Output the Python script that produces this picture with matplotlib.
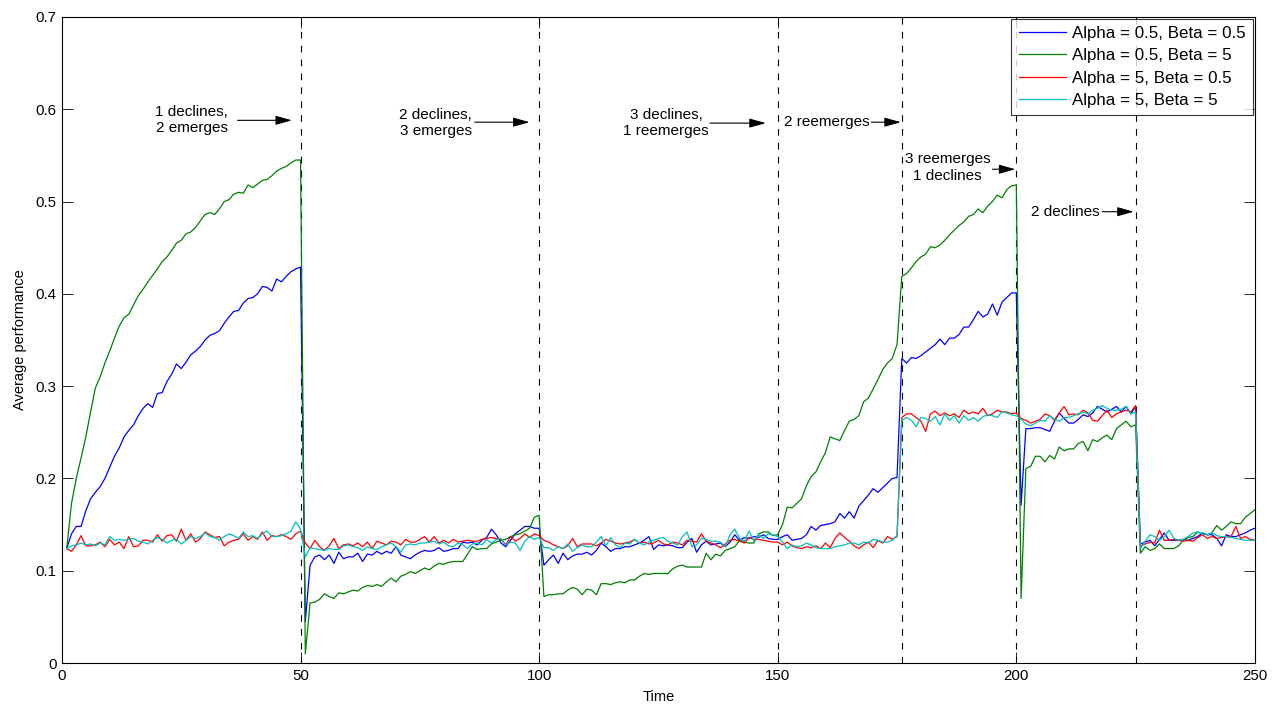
import numpy as np
import matplotlib
matplotlib.use("Agg")
import matplotlib.pyplot as plt

plt.rcParams['font.family'] = ['Liberation Sans', 'DejaVu Sans']

time = np.arange(1, 251)

# Alpha = 0.5, Beta = 0.5
blue = [
    0.124, 0.140, 0.148, 0.148, 0.165, 0.178, 0.185, 0.191, 0.200, 0.212,
    0.224, 0.233, 0.245, 0.252, 0.258, 0.268, 0.276, 0.281, 0.277, 0.292,
    0.293, 0.305, 0.313, 0.324, 0.319, 0.326, 0.334, 0.338, 0.343, 0.350,
    0.355, 0.357, 0.360, 0.368, 0.375, 0.381, 0.382, 0.390, 0.395, 0.396,
    0.400, 0.408, 0.407, 0.403, 0.416, 0.413, 0.419, 0.424, 0.427, 0.429,
    0.045, 0.106, 0.115, 0.117, 0.112, 0.117, 0.108, 0.120, 0.113, 0.115,
    0.115, 0.119, 0.110, 0.118, 0.117, 0.121, 0.118, 0.121, 0.119, 0.126,
    0.117, 0.115, 0.113, 0.117, 0.120, 0.122, 0.121, 0.122, 0.125, 0.121,
    0.122, 0.124, 0.124, 0.131, 0.130, 0.131, 0.128, 0.133, 0.136, 0.145,
    0.139, 0.130, 0.126, 0.133, 0.140, 0.144, 0.148, 0.148, 0.146, 0.146,
    0.106, 0.112, 0.117, 0.108, 0.119, 0.112, 0.116, 0.118, 0.118, 0.120,
    0.117, 0.122, 0.130, 0.126, 0.121, 0.124, 0.124, 0.126, 0.126, 0.128,
    0.130, 0.133, 0.137, 0.123, 0.128, 0.127, 0.128, 0.127, 0.125, 0.125,
    0.131, 0.135, 0.120, 0.128, 0.132, 0.128, 0.129, 0.130, 0.126, 0.131,
    0.139, 0.133, 0.136, 0.135, 0.137, 0.136, 0.139, 0.135, 0.134, 0.134,
    0.137, 0.139, 0.133, 0.134, 0.135, 0.139, 0.148, 0.144, 0.149, 0.150,
    0.151, 0.153, 0.162, 0.157, 0.164, 0.157, 0.170, 0.176, 0.182, 0.189,
    0.185, 0.190, 0.195, 0.200, 0.201, 0.330, 0.325, 0.331, 0.330, 0.333,
    0.337, 0.341, 0.345, 0.351, 0.345, 0.352, 0.352, 0.356, 0.364, 0.364,
    0.372, 0.381, 0.375, 0.378, 0.389, 0.377, 0.391, 0.396, 0.401, 0.401,
    0.171, 0.254, 0.254, 0.255, 0.255, 0.253, 0.251, 0.262, 0.271, 0.265,
    0.260, 0.260, 0.264, 0.269, 0.267, 0.271, 0.278, 0.275, 0.272, 0.275,
    0.278, 0.272, 0.278, 0.270, 0.278, 0.129, 0.131, 0.133, 0.127, 0.134,
    0.141, 0.133, 0.133, 0.133, 0.134, 0.133, 0.135, 0.137, 0.141, 0.139,
    0.139, 0.135, 0.127, 0.139, 0.137, 0.137, 0.139, 0.141, 0.144, 0.146,
]

# Alpha = 0.5, Beta = 5
green = [
    0.124, 0.173, 0.200, 0.222, 0.245, 0.272, 0.298, 0.310, 0.325, 0.338,
    0.352, 0.365, 0.374, 0.378, 0.388, 0.398, 0.405, 0.413, 0.420, 0.427,
    0.435, 0.440, 0.447, 0.455, 0.458, 0.465, 0.467, 0.472, 0.479, 0.486,
    0.488, 0.486, 0.492, 0.500, 0.502, 0.508, 0.510, 0.509, 0.518, 0.515,
    0.519, 0.523, 0.524, 0.528, 0.533, 0.536, 0.538, 0.542, 0.545, 0.545,
    0.010, 0.065, 0.066, 0.069, 0.075, 0.072, 0.070, 0.076, 0.075, 0.077,
    0.079, 0.078, 0.082, 0.084, 0.083, 0.085, 0.083, 0.088, 0.092, 0.088,
    0.094, 0.096, 0.099, 0.097, 0.100, 0.103, 0.101, 0.105, 0.108, 0.107,
    0.109, 0.110, 0.110, 0.110, 0.118, 0.126, 0.123, 0.124, 0.124, 0.129,
    0.131, 0.133, 0.134, 0.137, 0.139, 0.140, 0.143, 0.146, 0.158, 0.160,
    0.072, 0.074, 0.074, 0.075, 0.075, 0.079, 0.082, 0.080, 0.074, 0.080,
    0.079, 0.074, 0.086, 0.086, 0.085, 0.087, 0.088, 0.087, 0.090, 0.090,
    0.094, 0.097, 0.096, 0.097, 0.097, 0.097, 0.097, 0.102, 0.105, 0.106,
    0.104, 0.104, 0.104, 0.104, 0.119, 0.112, 0.118, 0.116, 0.122, 0.124,
    0.126, 0.133, 0.131, 0.130, 0.130, 0.140, 0.142, 0.142, 0.138, 0.139,
    0.150, 0.169, 0.168, 0.173, 0.178, 0.192, 0.202, 0.207, 0.218, 0.228,
    0.245, 0.243, 0.241, 0.252, 0.262, 0.264, 0.268, 0.283, 0.287, 0.297,
    0.307, 0.318, 0.325, 0.330, 0.345, 0.419, 0.422, 0.428, 0.435, 0.440,
    0.443, 0.451, 0.450, 0.453, 0.458, 0.464, 0.469, 0.474, 0.478, 0.484,
    0.486, 0.492, 0.488, 0.495, 0.500, 0.507, 0.504, 0.513, 0.517, 0.518,
    0.070, 0.211, 0.213, 0.224, 0.224, 0.218, 0.225, 0.221, 0.234, 0.230,
    0.232, 0.232, 0.238, 0.240, 0.230, 0.242, 0.240, 0.244, 0.247, 0.242,
    0.254, 0.258, 0.262, 0.256, 0.258, 0.119, 0.126, 0.122, 0.124, 0.129,
    0.124, 0.124, 0.124, 0.127, 0.133, 0.136, 0.137, 0.142, 0.140, 0.139,
    0.141, 0.149, 0.144, 0.148, 0.153, 0.151, 0.151, 0.158, 0.162, 0.166,
]

# Alpha = 5, Beta = 0.5
red = [
    0.124, 0.121, 0.128, 0.138, 0.127, 0.127, 0.128, 0.131, 0.126, 0.134,
    0.128, 0.131, 0.124, 0.137, 0.126, 0.127, 0.133, 0.133, 0.131, 0.139,
    0.132, 0.138, 0.139, 0.132, 0.145, 0.133, 0.140, 0.131, 0.135, 0.142,
    0.139, 0.136, 0.137, 0.127, 0.131, 0.133, 0.134, 0.140, 0.133, 0.137,
    0.134, 0.142, 0.133, 0.138, 0.137, 0.139, 0.137, 0.134, 0.140, 0.143,
    0.130, 0.124, 0.133, 0.126, 0.122, 0.127, 0.135, 0.124, 0.128, 0.129,
    0.127, 0.130, 0.126, 0.131, 0.124, 0.132, 0.130, 0.128, 0.132, 0.131,
    0.128, 0.134, 0.131, 0.131, 0.134, 0.137, 0.131, 0.137, 0.130, 0.133,
    0.130, 0.134, 0.131, 0.132, 0.133, 0.132, 0.132, 0.134, 0.135, 0.136,
    0.135, 0.134, 0.128, 0.137, 0.132, 0.135, 0.140, 0.136, 0.140, 0.138,
    0.133, 0.131, 0.128, 0.126, 0.124, 0.127, 0.135, 0.126, 0.129, 0.129,
    0.129, 0.127, 0.130, 0.134, 0.132, 0.130, 0.129, 0.130, 0.131, 0.134,
    0.130, 0.131, 0.129, 0.130, 0.133, 0.129, 0.128, 0.131, 0.130, 0.128,
    0.133, 0.132, 0.131, 0.140, 0.132, 0.130, 0.128, 0.125, 0.129, 0.133,
    0.134, 0.132, 0.130, 0.136, 0.134, 0.134, 0.133, 0.132, 0.131, 0.131,
    0.128, 0.131, 0.127, 0.125, 0.124, 0.126, 0.125, 0.127, 0.124, 0.130,
    0.125, 0.135, 0.141, 0.136, 0.132, 0.127, 0.124, 0.128, 0.131, 0.125,
    0.133, 0.130, 0.137, 0.134, 0.137, 0.266, 0.270, 0.270, 0.266, 0.262,
    0.251, 0.270, 0.273, 0.268, 0.271, 0.268, 0.270, 0.266, 0.274, 0.270,
    0.272, 0.270, 0.276, 0.268, 0.270, 0.274, 0.272, 0.272, 0.270, 0.271,
    0.265, 0.263, 0.260, 0.262, 0.264, 0.270, 0.268, 0.263, 0.271, 0.278,
    0.269, 0.270, 0.269, 0.274, 0.271, 0.263, 0.262, 0.268, 0.274, 0.266,
    0.270, 0.272, 0.274, 0.272, 0.279, 0.127, 0.129, 0.131, 0.130, 0.144,
    0.133, 0.133, 0.134, 0.133, 0.132, 0.133, 0.132, 0.136, 0.139, 0.135,
    0.137, 0.135, 0.136, 0.137, 0.137, 0.148, 0.135, 0.137, 0.134, 0.133,
]

# Alpha = 5, Beta = 5
cyan = [
    0.124, 0.127, 0.128, 0.130, 0.128, 0.129, 0.127, 0.130, 0.128, 0.137,
    0.133, 0.134, 0.133, 0.134, 0.135, 0.132, 0.131, 0.129, 0.133, 0.136,
    0.134, 0.130, 0.133, 0.134, 0.129, 0.133, 0.137, 0.135, 0.137, 0.141,
    0.137, 0.136, 0.133, 0.137, 0.140, 0.138, 0.135, 0.142, 0.137, 0.138,
    0.135, 0.140, 0.143, 0.137, 0.137, 0.138, 0.140, 0.143, 0.153, 0.145,
    0.115, 0.125, 0.124, 0.123, 0.122, 0.124, 0.123, 0.123, 0.127, 0.128,
    0.126, 0.125, 0.122, 0.126, 0.124, 0.123, 0.126, 0.128, 0.130, 0.126,
    0.120, 0.128, 0.129, 0.128, 0.130, 0.130, 0.131, 0.132, 0.129, 0.131,
    0.127, 0.126, 0.130, 0.128, 0.124, 0.129, 0.130, 0.128, 0.134, 0.130,
    0.134, 0.135, 0.128, 0.131, 0.130, 0.122, 0.132, 0.137, 0.134, 0.136,
    0.125, 0.125, 0.122, 0.126, 0.124, 0.129, 0.121, 0.125, 0.128, 0.126,
    0.126, 0.131, 0.137, 0.127, 0.136, 0.128, 0.125, 0.130, 0.129, 0.134,
    0.130, 0.128, 0.131, 0.133, 0.135, 0.136, 0.132, 0.130, 0.128, 0.137,
    0.142, 0.126, 0.128, 0.135, 0.134, 0.132, 0.132, 0.131, 0.126, 0.139,
    0.145, 0.135, 0.132, 0.143, 0.132, 0.139, 0.135, 0.140, 0.139, 0.137,
    0.131, 0.124, 0.128, 0.126, 0.127, 0.130, 0.128, 0.125, 0.124, 0.124,
    0.124, 0.126, 0.127, 0.128, 0.130, 0.130, 0.128, 0.131, 0.130, 0.134,
    0.133, 0.131, 0.131, 0.133, 0.138, 0.263, 0.266, 0.263, 0.256, 0.266,
    0.265, 0.262, 0.267, 0.258, 0.270, 0.263, 0.268, 0.260, 0.268, 0.263,
    0.266, 0.262, 0.267, 0.269, 0.268, 0.266, 0.272, 0.271, 0.269, 0.268,
    0.264, 0.259, 0.257, 0.260, 0.263, 0.262, 0.268, 0.264, 0.262, 0.266,
    0.266, 0.268, 0.270, 0.272, 0.270, 0.274, 0.276, 0.279, 0.276, 0.274,
    0.274, 0.275, 0.278, 0.270, 0.272, 0.124, 0.132, 0.139, 0.137, 0.133,
    0.137, 0.144, 0.135, 0.133, 0.134, 0.137, 0.141, 0.142, 0.140, 0.139,
    0.141, 0.138, 0.137, 0.137, 0.136, 0.135, 0.134, 0.133, 0.133, 0.133,
]

labels = ["Alpha = 0.5, Beta = 0.5", "Alpha = 0.5, Beta = 5",
          "Alpha = 5, Beta = 0.5", "Alpha = 5, Beta = 5"]
colors = ["#0000ff", "#008000", "#ff0000", "#00bfbf"]

events = [50, 100, 150, 176, 200, 225]

# text, text position (x, y), arrow tail x, arrow head x, arrow y
notes = [
    ("1 declines,\n2 emerges", 27.2, 0.588, 36.8, 48.2, 0.588),
    ("2 declines,\n3 emerges", 78.3, 0.585, 86.5, 98.0, 0.586),
    ("3 declines,\n1 reemerges", 126.6, 0.585, 135.8, 147.5, 0.585),
    ("2 reemerges", 160.3, 0.586, 169.6, 175.8, 0.586),
    ("3 reemerges\n1 declines", 185.6, 0.537, 195.0, 199.8, 0.535),
    ("2 declines", 210.3, 0.489, 218.0, 224.6, 0.489),
]

fig = plt.figure(figsize=(12.8, 7.04), dpi=100)
ax = fig.add_axes([0.0484, 0.0582, 0.932, 0.9177])

for x in events:
    ax.plot([x, x], [0, 0.7], color="black", lw=0.8, ls=(0, (6, 6.5)), zorder=1)

for vals, c, lab in zip([blue, green, red, cyan], colors, labels):
    ax.plot(time, vals, color=c, lw=0.9, label=lab, zorder=2)

for txt, tx, ty, x0, x1, ay in notes:
    ax.text(tx, ty, txt, ha="center", va="center", fontsize=11)
    ax.annotate("", xy=(x1, ay), xytext=(x0, ay),
                arrowprops=dict(arrowstyle="-|>,head_length=1.0,head_width=0.28",
                                color="black", lw=0.8, shrinkA=0, shrinkB=0))

ax.set_xlim(0, 250)
ax.set_ylim(0, 0.7)
ax.set_xticks([0, 50, 100, 150, 200, 250])
ax.set_yticks([0, 0.1, 0.2, 0.3, 0.4, 0.5, 0.6, 0.7])
ax.set_yticklabels(["0", "0.1", "0.2", "0.3", "0.4", "0.5", "0.6", "0.7"])
ax.tick_params(direction="in", length=8, width=0.6, top=True, right=True,
               labelsize=10.8, pad=4)
for s in ax.spines.values():
    s.set_linewidth(0.8)

ax.set_xlabel("Time", fontsize=10.5, labelpad=5)
ax.set_ylabel("Average performance", fontsize=10.5, labelpad=6)

leg = ax.legend(loc="upper right", fontsize=12.2, frameon=True, fancybox=False,
                edgecolor="black", borderaxespad=0.1, handlelength=2.8,
                labelspacing=0.42, borderpad=0.45, handletextpad=0.35)
leg.get_frame().set_linewidth(0.8)

fig.savefig("out.png", dpi=100)
